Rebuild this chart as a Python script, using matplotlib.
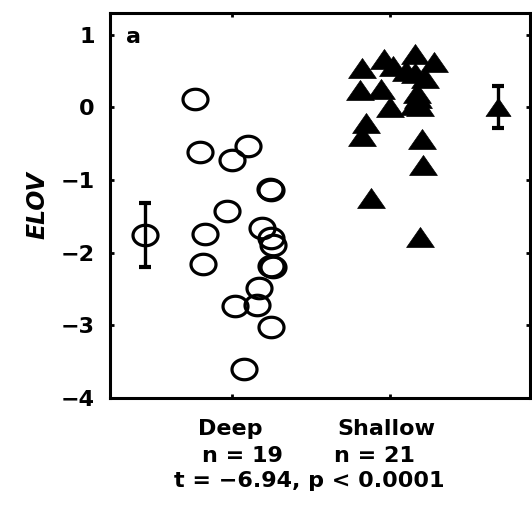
import numpy as np
import matplotlib
matplotlib.use("Agg")
import matplotlib.pyplot as plt
from matplotlib.path import Path
import matplotlib.transforms as mtransforms

# ---------------- data ----------------
categories = ["Deep", "Shallow"]
n_labels = ["n = 19", "n = 21"]
stat_label = "t = \u22126.94, p < 0.0001"

deep_x = [0.77, 0.80, 1.10, 1.00, 1.24, 1.25, 0.97, 0.83, 1.19, 1.25,
          1.26, 0.82, 1.26, 1.25, 1.17, 1.02, 1.16, 1.25, 1.08]
deep_y = [0.12, -0.61, -0.53, -0.73, -1.12, -1.13, -1.43, -1.74, -1.66, -1.80,
          -1.89, -2.15, -2.20, -2.18, -2.48, -2.74, -2.72, -3.02, -3.60]

shallow_x = [1.82, 1.96, 2.02, 2.16, 2.28, 2.16, 2.22, 1.81, 1.94, 2.00,
             2.18, 2.15, 2.19, 1.85, 1.82, 2.20, 2.21, 1.88, 2.19, 2.10, 2.17]
shallow_y = [0.54, 0.67, 0.57, 0.74, 0.62, 0.47, 0.41, 0.24, 0.26, 0.01,
             0.13, 0.04, 0.02, -0.22, -0.39, -0.43, -0.79, -1.24, -1.79, 0.50, 0.20]

mean_x = [0.45, 2.68]
mean_y = [-1.76, 0.01]
mean_err = [0.44, 0.29]

yticks = [1, 0, -1, -2, -3, -4]

# ---------------- markers ----------------
t = np.linspace(0, 2 * np.pi, 64)
ell = Path(np.column_stack([0.5 * np.cos(t), 0.41 * np.sin(t)]), closed=True)
h = 0.36
tri = Path([(-0.5, -h), (0.5, -h), (0.0, h), (-0.5, -h)], closed=True)

plt.rcParams['font.family'] = ['DejaVu Sans']
plt.rcParams['font.weight'] = 'bold'

fig = plt.figure(figsize=(5.32, 5.08), dpi=100)
ax = fig.add_axes([110 / 532, 110 / 508, 420 / 532, 385 / 508])

ax.plot(deep_x, deep_y, linestyle='none', marker=ell, markersize=18,
        markerfacecolor='none', markeredgecolor='black', markeredgewidth=2.3)
ax.plot(shallow_x, shallow_y, linestyle='none', marker=tri, markersize=20,
        markerfacecolor='black', markeredgecolor='black', markeredgewidth=0.5)

# group means with error bars
ax.errorbar(mean_x[:1], mean_y[:1], yerr=mean_err[:1], fmt='none', ecolor='black',
            elinewidth=2.4, capsize=4, capthick=3)
ax.plot(mean_x[:1], mean_y[:1], linestyle='none', marker=ell, markersize=18,
        markerfacecolor='none', markeredgecolor='black', markeredgewidth=2.3)
ax.errorbar(mean_x[1:], mean_y[1:], yerr=mean_err[1:], fmt='none', ecolor='black',
            elinewidth=2.4, capsize=4, capthick=3)
ax.plot(mean_x[1:], mean_y[1:], linestyle='none', marker=tri, markersize=18,
        markerfacecolor='black', markeredgecolor='black', markeredgewidth=0.5)

ax.set_xlim(0.23, 2.885)
ax.set_ylim(-4, 1.3)
ax.set_yticks(yticks)
ax.set_yticklabels([f"{v:d}".replace("-", "\u2212") for v in yticks], fontsize=16,
                   fontweight='bold')
ax.set_xticks([1, 2])
ax.set_xticklabels([])
ax.tick_params(direction='in', length=3, width=2, top=True, right=True,
               labelsize=16, pad=11)
for s in ax.spines.values():
    s.set_linewidth(2.2)

ax.set_ylabel("ELOV", fontsize=17, fontweight='bold', fontstyle='italic', labelpad=8)

ax.text(0.055, 0.938, "a", transform=ax.transAxes, fontsize=16, fontweight='bold',
        ha='center', va='center')

trans = mtransforms.blended_transform_factory(ax.transData, ax.transAxes)
cat_x = [0.99, 1.98]
n_x = [1.07, 1.90]
for cx, nx, c, nl in zip(cat_x, n_x, categories, n_labels):
    ax.text(cx, -0.080, c, transform=trans, ha='center', va='center', fontsize=16,
            fontweight='bold')
    ax.text(nx, -0.150, nl, transform=trans, ha='center', va='center', fontsize=16,
            fontweight='bold')
ax.text(1.49, -0.216, stat_label, transform=trans, ha='center', va='center',
        fontsize=16, fontweight='bold')

fig.savefig("out.png", dpi=100)
